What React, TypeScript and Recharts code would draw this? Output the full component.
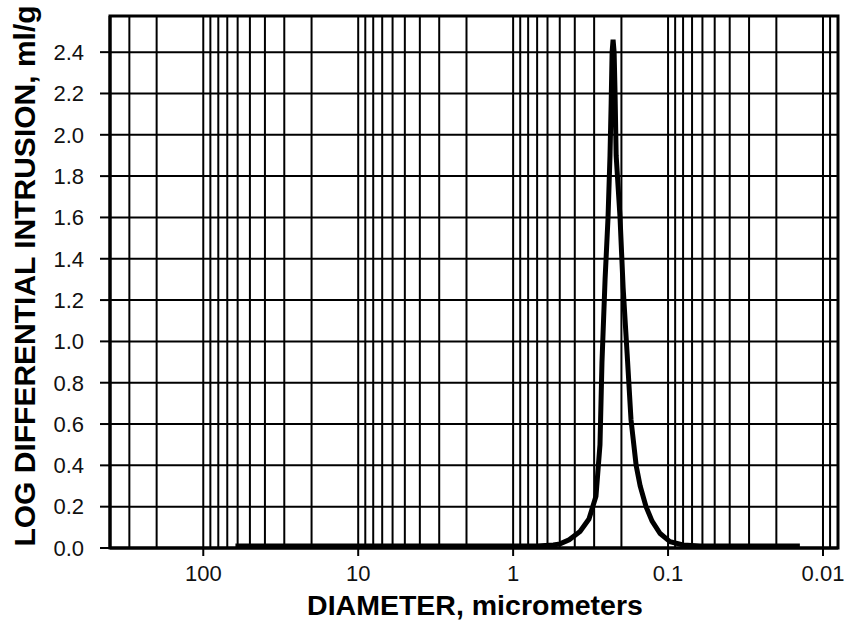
import React from "react";
import {
  LineChart,
  Line,
  XAxis,
  YAxis,
  CartesianGrid,
  ReferenceLine,
  ReferenceArea,
} from "recharts";

const diameters = [
  62, 40, 20, 10, 5, 2, 1, 0.7, 0.55, 0.498, 0.435, 0.37, 0.324, 0.292, 0.275,
  0.267, 0.255, 0.244, 0.237, 0.233, 0.2297, 0.2264, 0.2229, 0.2198, 0.2163,
  0.2042, 0.195, 0.1837, 0.1734, 0.1607, 0.1514, 0.1387, 0.1268, 0.1125, 0.097,
  0.08, 0.062, 0.04, 0.025, 0.0141,
];

// log differential intrusion, ml/g
const intrusion = [
  0.01, 0.01, 0.01, 0.01, 0.01, 0.01, 0.01, 0.01, 0.015, 0.02, 0.04, 0.08, 0.14,
  0.25, 0.5, 0.9, 1.3, 1.6, 1.9, 2.15, 2.4, 2.46, 2.4, 2.2, 1.9, 1.6, 1.26, 0.94,
  0.62, 0.4, 0.3, 0.2, 0.13, 0.07, 0.03, 0.015, 0.01, 0.01, 0.01, 0.01,
];

const xTicks = [100, 10, 1, 0.1, 0.01];
const yTicks = [0, 0.2, 0.4, 0.6, 0.8, 1.0, 1.2, 1.4, 1.6, 1.8, 2.0, 2.2, 2.4];

// minor grid lines: every integer step inside each decade
const xGrid = [
  300, 200, 100, 90, 80, 70, 60, 50, 40, 30, 20, 10, 9, 8, 7, 6, 5, 4, 3, 2, 1,
  0.9, 0.8, 0.7, 0.6, 0.5, 0.4, 0.3, 0.2, 0.1, 0.09, 0.08, 0.07, 0.06, 0.05,
  0.04, 0.03, 0.02, 0.01, 0.009,
];

const X_DOMAIN = [0.008, 400];
const Y_DOMAIN = [0, 2.575];

const FONT = '"Liberation Sans", Arial, sans-serif';

const data = diameters.map((d, i) => ({ d, v: intrusion[i] }));

const fmtX = (v: number) => String(v);
const fmtY = (v: number) => v.toFixed(1);

export default function App() {
  return (
    <div
      style={{
        position: "absolute",
        left: 0,
        top: 0,
        width: 850,
        height: 627,
        background: "#fff",
        fontFamily: FONT,
      }}
    >
      <LineChart
        width={850}
        height={627}
        data={data}
        margin={{ top: 16, right: 12, bottom: 0, left: 0 }}
      >
        <CartesianGrid vertical={false} stroke="#000" strokeWidth={2} />
        {xGrid.map((g) => (
          <ReferenceLine key={g} x={g} stroke="#000" strokeWidth={2} />
        ))}
        <XAxis
          dataKey="d"
          type="number"
          scale="log"
          domain={X_DOMAIN}
          reversed
          allowDataOverflow
          ticks={xTicks}
          tickFormatter={fmtX}
          height={79}
          tickSize={8}
          tickMargin={9}
          axisLine={{ stroke: "#000", strokeWidth: 3 }}
          tickLine={{ stroke: "#000", strokeWidth: 2 }}
          tick={{ fontSize: 22, fill: "#111", fontFamily: FONT }}
          label={{
            content: () => (
              <text
                x={475}
                y={615}
                textAnchor="middle"
                fontSize={28.5}
                fontWeight="bold"
                fontFamily={FONT}
                fill="#000"
              >
                DIAMETER, micrometers
              </text>
            ),
          }}
        />
        <YAxis
          type="number"
          domain={Y_DOMAIN}
          ticks={yTicks}
          tickFormatter={fmtY}
          width={110}
          tickSize={10}
          tickMargin={16}
          axisLine={{ stroke: "#000", strokeWidth: 3 }}
          tickLine={{ stroke: "#000", strokeWidth: 2 }}
          tick={{ fontSize: 22, fill: "#111", fontFamily: FONT }}
          label={{
            content: () => (
              <text
                x={35}
                y={276}
                transform="rotate(-90 35 276)"
                textAnchor="middle"
                fontSize={30}
                fontWeight="bold"
                fontFamily={FONT}
                fill="#000"
              >
                LOG DIFFERENTIAL INTRUSION, ml/g
              </text>
            ),
          }}
        />
        <ReferenceArea
          x1={X_DOMAIN[1]}
          x2={X_DOMAIN[0]}
          y1={Y_DOMAIN[0]}
          y2={Y_DOMAIN[1]}
          fill="none"
          stroke="#000"
          strokeWidth={3}
          fillOpacity={0}
        />
        <Line
          dataKey="v"
          type="linear"
          stroke="#000"
          strokeWidth={5}
          dot={false}
          isAnimationActive={false}
        />
      </LineChart>
    </div>
  );
}
